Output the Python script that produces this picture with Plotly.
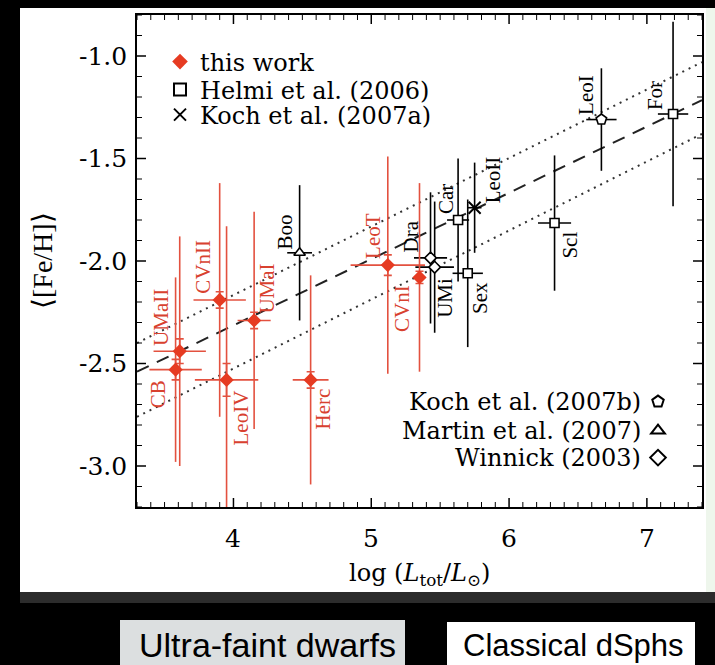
import plotly.graph_objects as go

# ---------------- data ----------------
tw_names = ["CB", "UMaII", "CVnII", "LeoIV", "UMaI", "Herc", "LeoT", "CVnI"]
tw_logL = [3.58, 3.61, 3.90, 3.95, 4.15, 4.56, 5.12, 5.35]
tw_logL_err = [0.19, 0.19, 0.19, 0.23, 0.12, 0.13, 0.27, 0.04]
tw_feh = [-2.53, -2.44, -2.19, -2.58, -2.29, -2.58, -2.02, -2.08]
tw_sigma = [0.45, 0.56, 0.57, 0.75, 0.53, 0.51, 0.53, 0.46]
tw_feh_err = [0.05, 0.06, 0.04, 0.08, 0.04, 0.04, 0.05, 0.03]
tw_label_dx = [-18, -19, -17, 14, 13, 12, -15, -17]
tw_label_dy = [-25, 34, 33, -38, 32, -29, 29, -31]

lit_names = ["Boo", "Dra", "UMi", "Car", "Sex", "LeoII", "Scl", "LeoI", "For"]
lit_ref = ["Martin et al. (2007)", "Winnick (2003)", "Winnick (2003)",
           "Helmi et al. (2006)", "Helmi et al. (2006)", "Koch et al. (2007a)",
           "Helmi et al. (2006)", "Koch et al. (2007b)", "Helmi et al. (2006)"]
lit_logL = [4.48, 5.43, 5.46, 5.63, 5.70, 5.75, 6.33, 6.67, 7.19]
lit_logL_err = [0.09, 0.12, 0.14, 0.08, 0.11, 0.05, 0.12, 0.11, 0.11]
lit_feh = [-1.96, -1.985, -2.03, -1.80, -2.06, -1.74, -1.815, -1.31, -1.283]
lit_sigma = [0.33, 0.32, 0.32, 0.30, 0.36, 0.22, 0.33, 0.25, 0.45]
lit_label_dx = [-15, -20, 10, -12, 13, 18, 16, -16, -18]
lit_label_dy = [21, 21, -31, 21, -25, 28, -22, 25, 18]

fit_x = [3.3, 7.4]
fit_mid = [-2.54, -1.215]
fit_hi = [-2.40, -1.03]
fit_lo = [-2.76, -1.38]

x_range = [3.3, 7.4]
y_range = [-3.2, -0.8]
x_tickvals = [4, 5, 6, 7]
x_ticktext = ["4", "5", "6", "7"]
y_tickvals = [-3.0, -2.5, -2.0, -1.5, -1.0]
y_ticktext = ["-3.0", "-2.5", "-2.0", "-1.5", "-1.0"]
minor_step = 0.1

# ---------------- style ----------------
RED = "#e63b22"
RED_LINE = "#e3513f"
SERIF = "DejaVu Serif, serif"
SERIF_LBL = "Liberation Serif, Times New Roman, serif"
SANS = "Liberation Sans, Arial, sans-serif"

W_FIG, H_FIG = 715, 665
L, R, T, B = 137, 702, 15, 507
MAJOR_LEN, MINOR_LEN = 9, 5


def px_x(p):
    return (p - L) / (R - L)


def px_y(p):
    return (B - p) / (B - T)


sym = {
    "Helmi et al. (2006)": ("square", 9, "legend2"),
    "Koch et al. (2007a)": ("x-thin", 12, "legend3"),
    "Koch et al. (2007b)": ("pentagon", 11, "legend4"),
    "Martin et al. (2007)": ("triangle-up", 10, "legend5"),
    "Winnick (2003)": ("diamond", 9, "legend6"),
}

fig = go.Figure()

fig.add_trace(go.Scatter(x=fit_x, y=fit_hi, mode="lines", showlegend=False,
                         line=dict(color="#333", width=2, dash="2px,5px"), hoverinfo="skip"))
fig.add_trace(go.Scatter(x=fit_x, y=fit_lo, mode="lines", showlegend=False,
                         line=dict(color="#333", width=2, dash="2px,5px"), hoverinfo="skip"))
fig.add_trace(go.Scatter(x=fit_x, y=fit_mid, mode="lines", showlegend=False,
                         line=dict(color="#222", width=2, dash="13px,9px"), hoverinfo="skip"))

fig.add_trace(go.Scatter(
    x=lit_logL, y=lit_feh, mode="markers", showlegend=False, hoverinfo="skip",
    marker=dict(size=1, color="rgba(0,0,0,0)"),
    error_y=dict(type="data", array=lit_sigma, color="black", thickness=1.6, width=0),
    error_x=dict(type="data", array=lit_logL_err, color="black", thickness=1.6, width=0)))

fig.add_trace(go.Scatter(
    x=tw_logL, y=tw_feh, mode="markers", showlegend=False, hoverinfo="skip",
    marker=dict(size=1, color="rgba(0,0,0,0)"),
    error_y=dict(type="data", array=tw_sigma, color=RED_LINE, thickness=1.6, width=0),
    error_x=dict(type="data", array=tw_logL_err, color=RED_LINE, thickness=1.6, width=0)))
fig.add_trace(go.Scatter(
    x=tw_logL, y=tw_feh, mode="markers", showlegend=False, hoverinfo="skip",
    marker=dict(size=1, color="rgba(0,0,0,0)"),
    error_y=dict(type="data", array=tw_feh_err, color=RED_LINE, thickness=1.6, width=4)))

for ref, (symbol, size, leg) in sym.items():
    idx = [i for i, r in enumerate(lit_ref) if r == ref]
    is_x = symbol.startswith("x")
    name = ref if leg in ("legend2", "legend3") else ""
    fig.add_trace(go.Scatter(
        x=[lit_logL[i] for i in idx], y=[lit_feh[i] for i in idx],
        mode="markers", name=name, legend=leg, showlegend=True,
        marker=dict(symbol=symbol, size=size,
                    color="black" if is_x else "white",
                    line=dict(color="black", width=2 if is_x else 1.6))))

fig.add_trace(go.Scatter(
    x=tw_logL, y=tw_feh, mode="markers", name="this work", legend="legend",
    marker=dict(symbol="diamond", size=11, color=RED, line=dict(width=0))))

annotations = []
for n, x, y, dx, dy in zip(tw_names, tw_logL, tw_feh, tw_label_dx, tw_label_dy):
    annotations.append(dict(x=x, y=y, xref="x", yref="y", text=n, showarrow=False,
                            textangle=-90, xshift=dx, yshift=dy,
                            font=dict(family=SERIF_LBL, size=21, color="#d8412f")))
for n, x, y, dx, dy in zip(lit_names, lit_logL, lit_feh, lit_label_dx, lit_label_dy):
    annotations.append(dict(x=x, y=y, xref="x", yref="y", text=n, showarrow=False,
                            textangle=-90, xshift=dx, yshift=dy,
                            font=dict(family=SERIF_LBL, size=21, color="black")))

for txt, py in [("Koch et al. (2007b)", 402), ("Martin et al. (2007)", 431), ("Winnick (2003)", 458)]:
    annotations.append(dict(x=px_x(643), y=px_y(py), xref="paper", yref="paper", text=txt,
                            showarrow=False, xanchor="right", yanchor="middle",
                            font=dict(family=SERIF, size=24, color="black")))

# tick labels (placed from the tick arrays)
for v, t in zip(x_tickvals, x_ticktext):
    annotations.append(dict(x=v, y=px_y(538), xref="x", yref="paper", text=t,
                            showarrow=False, xanchor="center", yanchor="middle",
                            font=dict(family=SERIF, size=25, color="black")))
for v, t in zip(y_tickvals, y_ticktext):
    annotations.append(dict(x=px_x(129), y=v, xref="paper", yref="y", text=t,
                            showarrow=False, xanchor="right", yanchor="middle",
                            font=dict(family=SERIF, size=25, color="black")))

annotations.append(dict(x=0.5, y=px_y(574), xref="paper", yref="paper",
                        text="log (<i>L</i><sub>tot</sub>/<i>L</i><sub>⊙</sub>)",
                        showarrow=False, xanchor="center", yanchor="middle",
                        font=dict(family=SERIF, size=24, color="black")))
annotations.append(dict(x=px_x(42), y=0.5, xref="paper", yref="paper",
                        text="⟨[Fe/H]⟩", textangle=-90,
                        showarrow=False, xanchor="center", yanchor="middle",
                        font=dict(family=SERIF_LBL, size=28, color="black")))

annotations.append(dict(x=px_x(137), y=px_y(645), xref="paper", yref="paper",
                        text="Ultra-faint dwarfs", showarrow=False, xanchor="left", yanchor="middle",
                        font=dict(family=SANS, size=34, color="black")))
annotations.append(dict(x=px_x(461), y=px_y(645), xref="paper", yref="paper",
                        text="Classical dSphs", showarrow=False, xanchor="left", yanchor="middle",
                        font=dict(family=SANS, size=31, color="black")))


def rect(x0, x1, y0, y1, color):
    return dict(type="rect", xref="paper", yref="paper", layer="below",
                x0=px_x(x0), x1=px_x(x1), y0=px_y(y1), y1=px_y(y0),
                fillcolor=color, line=dict(width=0))


shapes = [
    rect(-5, 720, -5, 8, "black"),
    rect(-5, 20, -5, 670, "black"),
    rect(-5, 720, 592, 670, "black"),
    rect(20, 720, 592, 603, "#2c2c2c"),
    rect(706, 720, 8, 592, "#eef6ec"),
    rect(120, 405, 620, 670, "#dcdfe0"),
    rect(447, 695, 622, 670, "white"),
]

# inside tick marks on all four sides (major + minor), derived from the axis ranges
fx = MAJOR_LEN / (B - T)
fy = MAJOR_LEN / (R - L)
mx = MINOR_LEN / (B - T)
my = MINOR_LEN / (R - L)


def steps(lo, hi, step):
    n0 = int(round(lo / step))
    n1 = int(round(hi / step))
    return [round(k * step, 3) for k in range(n0, n1 + 1)]


for v in steps(x_range[0], x_range[1], minor_step):
    major = any(abs(v - t) < 1e-6 for t in x_tickvals)
    ln = fx if major else mx
    w = 1.5 if major else 1
    for y0, y1 in [(0, ln), (1, 1 - ln)]:
        shapes.append(dict(type="line", xref="x", yref="paper", x0=v, x1=v, y0=y0, y1=y1,
                           layer="above", line=dict(color="black", width=w)))
for v in steps(y_range[0], y_range[1], minor_step):
    major = any(abs(v - t) < 1e-6 for t in y_tickvals)
    ln = fy if major else my
    w = 1.5 if major else 1
    for x0, x1 in [(0, ln), (1, 1 - ln)]:
        shapes.append(dict(type="line", xref="paper", yref="y", x0=x0, x1=x1, y0=v, y1=v,
                           layer="above", line=dict(color="black", width=w)))

leg_font = dict(family=SERIF, size=24, color="black")


def leg(xp, yp):
    return dict(x=px_x(xp), y=px_y(yp), xanchor="left", yanchor="middle",
                itemsizing="constant", bgcolor="rgba(0,0,0,0)", font=leg_font)


fig.update_layout(
    width=W_FIG, height=H_FIG,
    margin=dict(l=L, r=W_FIG - R, t=T, b=H_FIG - B),
    paper_bgcolor="white", plot_bgcolor="white",
    annotations=annotations, shapes=shapes,
    legend=leg(160, 62),
    legend2=leg(160, 90),
    legend3=leg(160, 115),
    legend4=leg(638, 402),
    legend5=leg(638, 431),
    legend6=leg(638, 458),
    xaxis=dict(range=x_range, tickvals=x_tickvals, ticktext=x_ticktext, showticklabels=False,
               ticks="", showline=True, linecolor="black", linewidth=2, mirror=True,
               showgrid=False, zeroline=False, automargin=False),
    yaxis=dict(range=y_range, tickvals=y_tickvals, ticktext=y_ticktext, showticklabels=False,
               ticks="", showline=True, linecolor="black", linewidth=2, mirror=True,
               showgrid=False, zeroline=False, automargin=False),
)

fig.write_html("out.html")
